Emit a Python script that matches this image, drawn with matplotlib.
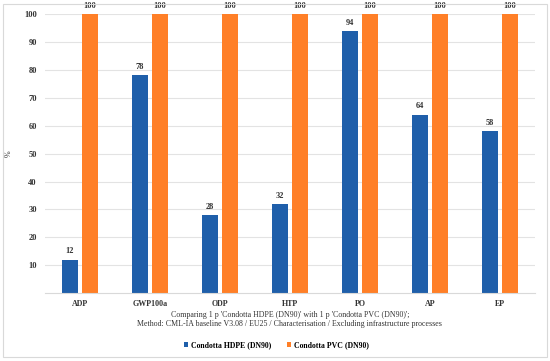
import numpy as np
import matplotlib.pyplot as plt
from matplotlib.patches import Rectangle

categories = ['ADP', 'GWP100a', 'ODP', 'HTP', 'PO', 'AP', 'EP']
hdpe = [12, 78, 28, 32, 94, 64, 58]
pvc = [100, 100, 100, 100, 100, 100, 100]
labels = ['Condotta HDPE (DN90)', 'Condotta PVC (DN90)']

blue = '#1F5FAA'
orange = '#FF7F27'

plt.rcParams['font.family'] = ['Liberation Serif', 'DejaVu Serif']

fig = plt.figure(figsize=(5.5, 3.61), dpi=100)
ax = fig.add_axes([0.0818, 0.188, 0.891, 0.773])

x = np.arange(len(categories))
w = 0.23
b1 = ax.bar(x - w / 2 - 0.03, hdpe, w, color=blue, label=labels[0])
b2 = ax.bar(x + w / 2 + 0.03, pvc, w, color=orange, label=labels[1])
for bars in (b1, b2):
    for r in bars:
        ax.text(r.get_x() + r.get_width() / 2, r.get_height() + 1.5, f'{r.get_height():.0f}',
                ha='center', va='bottom', fontsize=6, fontweight='bold', color='#333333')

ax.set_xlim(-0.5, len(categories) - 0.5)
ax.set_ylim(0, 100)
ax.set_yticks(range(10, 101, 10))
ax.set_xticks(x)
ax.set_xticklabels(categories, fontsize=5.8, fontweight='bold', color='#333333')
ax.tick_params(axis='y', labelsize=6, colors='#333333', length=0, pad=6)
ax.tick_params(axis='x', length=0, pad=5)
for t in ax.get_yticklabels():
    t.set_fontweight('bold')
ax.grid(axis='y', color='#e3e3e3', linewidth=0.8)
ax.set_axisbelow(True)
for s in ['top', 'right', 'left']:
    ax.spines[s].set_visible(False)
ax.spines['bottom'].set_color('#d9d9d9')
ax.set_ylabel('%', fontsize=5.8, color='#333333', labelpad=8)

fig.text(0.527, 0.123, "Comparing 1 p 'Condotta HDPE (DN90)' with 1 p 'Condotta PVC (DN90)';",
         ha='center', fontsize=5.7, color='#333333')
fig.text(0.527, 0.096, 'Method: CML-IA baseline V3.08 / EU25 / Characterisation / Excluding infrastructure processes',
         ha='center', fontsize=5.7, color='#333333')

leg = fig.legend(handles=[b1, b2], loc='center', bbox_to_anchor=(0.502, 0.043), ncol=2,
                 frameon=False, handlelength=0.6, handleheight=0.6,
                 columnspacing=2, handletextpad=0.3, prop={'weight': 'bold', 'size': 5.6})

fig.patches.append(Rectangle((0.005, 0.01), 0.99, 0.98, transform=fig.transFigure,
                             fill=False, edgecolor='#d9d9d9', linewidth=0.8))

fig.savefig('out.png', dpi=100)
